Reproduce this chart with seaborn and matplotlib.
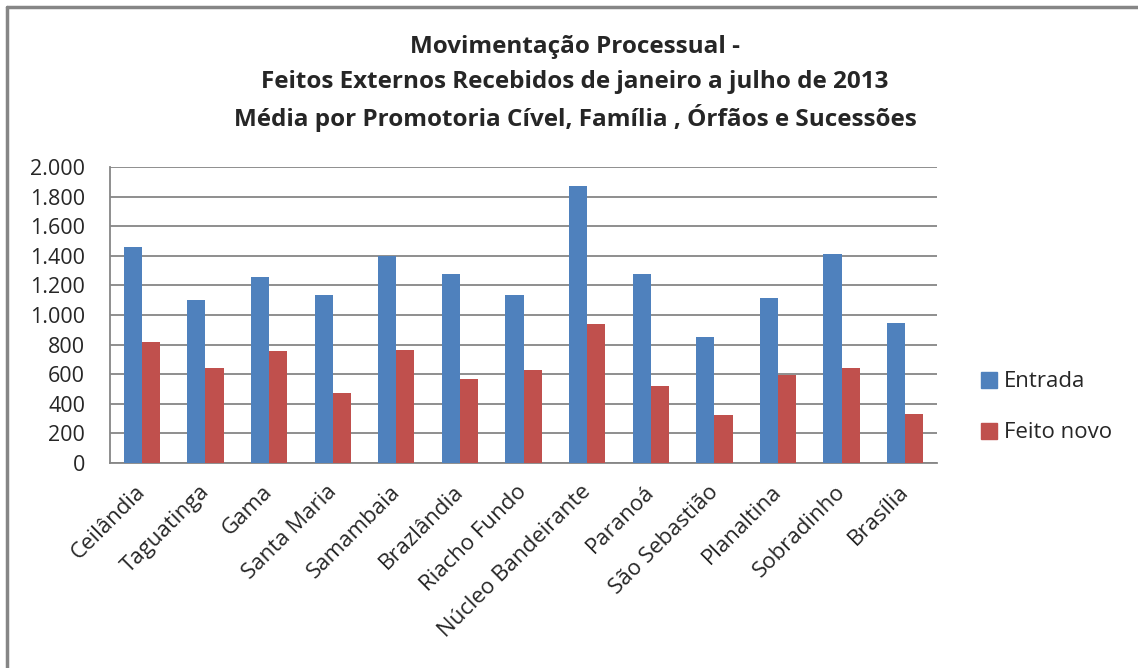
import numpy as np
import pandas as pd
import matplotlib.pyplot as plt
import matplotlib.ticker as mticker
import matplotlib.transforms as mtransforms
from matplotlib.lines import Line2D
import seaborn as sns

# --------------------
# Data
# --------------------
cidades = ["Ceilândia", "Taguatinga", "Gama", "Santa Maria", "Samambaia",
           "Brazlândia", "Riacho Fundo", "Núcleo Bandeirante", "Paranoá",
           "São Sebastião", "Planaltina", "Sobradinho", "Brasília"]
entrada = [1460, 1102, 1257, 1135, 1400, 1278, 1135, 1874, 1278, 851, 1115, 1413, 946]
feito_novo = [817, 641, 756, 472, 763, 567, 628, 939, 519, 323, 594, 641, 330]
series = ["Entrada", "Feito novo"]
cores = ["#4F81BD", "#C0504D"]

df = pd.DataFrame({
    "Cidade": cidades * 2,
    "Valor": entrada + feito_novo,
    "Serie": [series[0]] * len(cidades) + [series[1]] * len(cidades),
})

# --------------------
# Plot
# --------------------
sns.set_style("white")
plt.rcParams["font.family"] = ["Open Sans", "DejaVu Sans"]

fig = plt.figure(figsize=(11.38, 6.68), dpi=100)
ax = fig.add_axes([0.0967, 0.3069, 0.7267, 0.4431])

sns.barplot(data=df, x="Cidade", y="Valor", hue="Serie", order=cidades,
            hue_order=series, palette=cores, width=0.57, saturation=1,
            errorbar=None, ax=ax, zorder=3, linewidth=0)

ax.set_ylim(0, 2000)
ax.set_xlim(-0.5, len(cidades) - 0.5)
ax.yaxis.set_major_locator(mticker.MultipleLocator(200))
ax.yaxis.set_major_formatter(mticker.FuncFormatter(lambda v, p: f"{int(v):,}".replace(",", ".")))
ax.grid(axis="y", color="#868686", linewidth=1.3, zorder=0)
ax.set_axisbelow(True)
for s in ["top", "right"]:
    ax.spines[s].set_visible(False)
for s in ["left", "bottom"]:
    ax.spines[s].set_color("#868686")
    ax.spines[s].set_linewidth(1.3)
ax.tick_params(axis="y", labelsize=15.5, length=0, pad=18)
ax.tick_params(axis="x", labelsize=16, length=0, pad=13)
desloc = mtransforms.ScaledTranslation(-7 / 100, 0, fig.dpi_scale_trans)
for lbl in ax.get_xticklabels():
    lbl.set_rotation(45)
    lbl.set_ha("right")
    lbl.set_rotation_mode("anchor")
    lbl.set_transform(lbl.get_transform() + desloc)
ax.set_xlabel("")
ax.set_ylabel("")

ax.legend_.remove()
handles = [Line2D([0], [0], marker="s", linestyle="", markersize=11,
                  markerfacecolor=c, markeredgecolor=c) for c in cores]
fig.legend(handles, series, loc="center left", bbox_to_anchor=(0.843, 0.39),
           frameon=False, fontsize=16, handletextpad=0.2, labelspacing=1.35,
           handlelength=0.9)

titulo = ["Movimentação Processual -",
          "Feitos Externos Recebidos de janeiro a julho de 2013",
          "Média por Promotoria Cível, Família , Órfãos e Sucessões"]
for i, linha in enumerate(titulo):
    fig.text(575 / 1138, 1 - (47 + 35.5 * i) / 668, linha, ha="center", va="center",
             fontsize=17.5, fontweight="bold")

# moldura (só esquerda e topo visíveis)
fig.add_artist(Line2D([7 / 1138, 7 / 1138], [0, 1 - 7 / 668], color="#868686", lw=2.5))
fig.add_artist(Line2D([7 / 1138, 1], [1 - 7 / 668, 1 - 7 / 668], color="#868686", lw=2.5))

fig.savefig("out.png", dpi=100)
